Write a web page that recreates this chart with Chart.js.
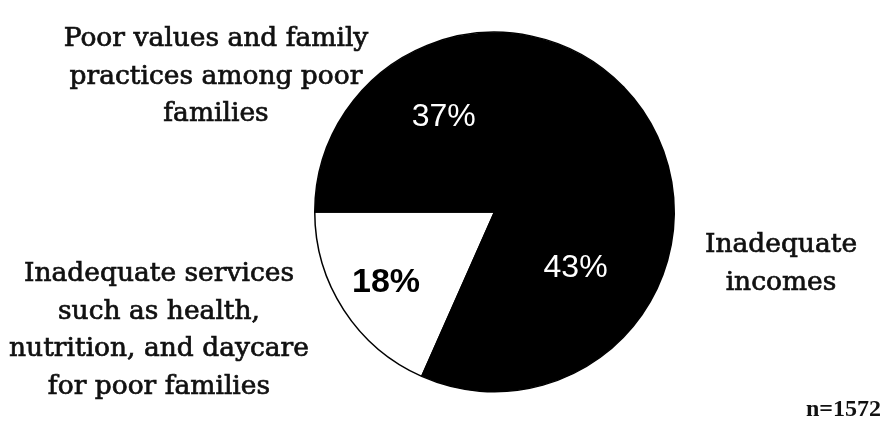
<!DOCTYPE html>
<html>
<head>
<meta charset="utf-8">
<script src="https://cdn.jsdelivr.net/npm/chart.js@4/dist/chart.umd.min.js"></script>
<style>
  html, body { margin: 0; padding: 0; background: #fff; }
  #wrap { position: relative; width: 884px; height: 434px; }
</style>
</head>
<body>
<div id="wrap"><canvas id="pieChart" width="884" height="434"></canvas></div>
<script>
const categories = [
    ['Inadequate services', 'such as health,', 'nutrition, and daycare', 'for poor families'],
    ['Poor values and family', 'practices among poor', 'families'],
    ['Inadequate', 'incomes']
];
const values = [18, 37, 43];
const pctLabels = ['18%', '37%', '43%'];
const sliceColors = ['#ffffff', '#000000', '#000000'];
const sampleNote = 'n=1572';

// where the outside labels sit (centre x, first baseline y)
const labelSpots = [
    { x: 159, y: 281 },
    { x: 216, y: 46 },
    { x: 781, y: 252 }
];
const pctStyle = [
    { r: 0.72, da: 0, color: '#000', font: 'bold 34px "Liberation Sans", Arial' },
    { r: 0.60, da: -6, color: '#fff', font: '32px "Liberation Sans", Arial' },
    { r: 0.55, da: 0, color: '#fff', font: '32px "Liberation Sans", Arial' }
];

const total = values.reduce((s, v) => s + v, 0);
// white slice ends exactly at 9 o'clock
const startAngle = 270 - values[0] / total * 360;

const labelPlugin = {
    id: 'pieLabels',
    afterDraw(chart) {
        const ctx = chart.ctx;
        const arcs = chart.getDatasetMeta(0).data;
        ctx.save();
        ctx.textAlign = 'center';
        ctx.textBaseline = 'middle';

        arcs.forEach((arc, i) => {
            const mid = (arc.startAngle + arc.endAngle) / 2 + pctStyle[i].da * Math.PI / 180;
            const rr = arc.outerRadius * pctStyle[i].r;
            ctx.font = pctStyle[i].font;
            ctx.fillStyle = pctStyle[i].color;
            ctx.fillText(pctLabels[i], arc.x + Math.cos(mid) * rr, arc.y + Math.sin(mid) * rr);
        });

        // scanned serif text looks heavy, so fill + a thin stroke
        ctx.textBaseline = 'alphabetic';
        ctx.font = '26.5px "DejaVu Serif", serif';
        ctx.fillStyle = '#111';
        ctx.strokeStyle = '#111';
        ctx.lineWidth = 0.7;
        categories.forEach((lines, i) => {
            lines.forEach((t, j) => {
                const y = labelSpots[i].y + j * 37.7;
                ctx.fillText(t, labelSpots[i].x, y);
                ctx.strokeText(t, labelSpots[i].x, y);
            });
        });

        ctx.font = 'bold 24px "Liberation Serif", "Times New Roman", serif';
        ctx.textAlign = 'right';
        ctx.fillText(sampleNote, 881, 416);
        ctx.restore();
    }
};

const ctx = document.getElementById('pieChart').getContext('2d');
const chart = new Chart(ctx, {
    type: 'pie',
    data: {
        labels: categories.map(c => c.join(' ')),
        datasets: [{
            data: values,
            backgroundColor: sliceColors,
            borderColor: '#000',
            borderWidth: 1.5
        }]
    },
    options: {
        responsive: false,
        animation: false,
        rotation: startAngle,
        layout: {
            padding: { left: 314, right: 209, top: 31, bottom: 41 }
        },
        plugins: {
            legend: { display: false },
            tooltip: { enabled: false }
        }
    },
    plugins: [labelPlugin]
});
</script>
</body>
</html>
